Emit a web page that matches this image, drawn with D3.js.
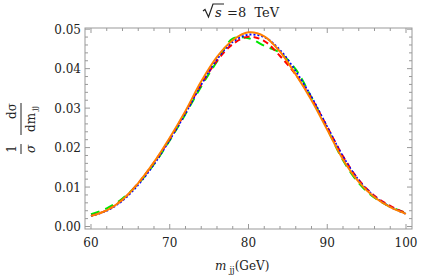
<!DOCTYPE html>
<html>
<head>
<meta charset="utf-8">
<script src="https://cdn.jsdelivr.net/npm/d3@7"></script>
<style>
  body { margin: 0; background: #fff; }
  svg text { font-family: "DejaVu Serif", "Liberation Serif", serif; }
</style>
</head>
<body>
<div id="graph"></div>
<script>
var width = 436, height = 277;
var margin = {top: 28, right: 24, bottom: 48, left: 85};

// m_jj values (GeV)
var mjj = [60, 62, 64, 66, 68, 70, 72, 74, 76, 78, 80, 82, 84, 86, 88, 90, 92, 94, 96, 98, 100];

// normalised distributions
var greenVals  = [0.0031, 0.0046, 0.0071, 0.0108, 0.0158, 0.0218, 0.0285, 0.0355, 0.0418, 0.0476, 0.0477, 0.0458, 0.0440, 0.0398, 0.0327, 0.0248, 0.0168, 0.0110, 0.0073, 0.0050, 0.0034];
var redVals    = [0.0027, 0.0041, 0.0068, 0.0110, 0.0162, 0.0222, 0.0290, 0.0360, 0.0420, 0.0462, 0.0481, 0.0470, 0.0432, 0.0385, 0.0325, 0.0252, 0.0178, 0.0118, 0.0078, 0.0052, 0.0034];
var blueVals   = [0.0027, 0.0040, 0.0066, 0.0106, 0.0158, 0.0220, 0.0287, 0.0360, 0.0424, 0.0468, 0.0486, 0.0480, 0.0447, 0.0393, 0.0328, 0.0252, 0.0177, 0.0117, 0.0076, 0.0050, 0.0032];
var orangeVals = [0.0027, 0.0041, 0.0068, 0.0110, 0.0163, 0.0225, 0.0293, 0.0368, 0.0430, 0.0472, 0.0492, 0.0482, 0.0443, 0.0385, 0.0320, 0.0245, 0.0170, 0.0113, 0.0074, 0.0049, 0.0032];

var xTicks = [60, 70, 80, 90, 100];
var yTicks = [0.00, 0.01, 0.02, 0.03, 0.04, 0.05];

var series = [
  {vals: greenVals,  color: "#00e600", dash: "9,6"},
  {vals: redVals,    color: "#ff0000", dash: "6,4"},
  {vals: blueVals,   color: "#0000ff", dash: "2,2"},
  {vals: orangeVals, color: "#ff8000", dash: null}
];

var svg = d3.select("#graph").append("svg")
    .attr("width", width).attr("height", height);

var x = d3.scaleLinear().domain([59.24, 100.76]).range([margin.left, width - margin.right]);
var y = d3.scaleLinear().domain([-0.00063, 0.0503]).range([height - margin.bottom, margin.top]);

var x0 = margin.left, x1 = width - margin.right,
    y0 = height - margin.bottom, y1 = margin.top;

var frame = svg.append("g").attr("class", "frame");
frame.append("rect")
    .attr("x", x0).attr("y", y1).attr("width", x1 - x0).attr("height", y0 - y1)
    .attr("fill", "none").attr("stroke", "#999").attr("stroke-width", 1);

// ticks on all four sides, pointing inward
var xMinor = d3.range(60, 101, 2);
var yMinor = d3.range(0, 0.0501, 0.002);

xMinor.forEach(function(t) {
  var major = xTicks.indexOf(t) >= 0;
  var len = major ? 5 : 3;
  frame.append("line").attr("x1", x(t)).attr("x2", x(t)).attr("y1", y0).attr("y2", y0 - len)
      .attr("stroke", "#999");
  frame.append("line").attr("x1", x(t)).attr("x2", x(t)).attr("y1", y1).attr("y2", y1 + len)
      .attr("stroke", "#999");
});
yMinor.forEach(function(t, i) {
  var major = i % 5 == 0;
  var len = major ? 5 : 3;
  frame.append("line").attr("y1", y(t)).attr("y2", y(t)).attr("x1", x0).attr("x2", x0 + len)
      .attr("stroke", "#999");
  frame.append("line").attr("y1", y(t)).attr("y2", y(t)).attr("x1", x1).attr("x2", x1 - len)
      .attr("stroke", "#999");
});

frame.selectAll(".xl").data(xTicks).enter().append("text")
    .attr("class", "xl")
    .attr("x", function(d) { return x(d); })
    .attr("y", y0 + 18)
    .attr("text-anchor", "middle")
    .attr("font-size", 12)
    .attr("fill", "#222")
    .text(function(d) { return d; });

frame.selectAll(".yl").data(yTicks).enter().append("text")
    .attr("class", "yl")
    .attr("x", x0 - 4)
    .attr("y", function(d) { return y(d) + 4.5; })
    .attr("text-anchor", "end")
    .attr("font-size", 12)
    .attr("fill", "#222")
    .text(function(d) { return d3.format(".2f")(d); });

// curves
var line = d3.line()
    .x(function(d, i) { return x(mjj[i]); })
    .y(function(d) { return y(d); })
    .curve(d3.curveCatmullRom);

svg.append("g").attr("class", "curves").selectAll("path")
    .data(series).enter().append("path")
    .attr("d", function(d) { return line(d.vals); })
    .attr("fill", "none")
    .attr("stroke", function(d) { return d.color; })
    .attr("stroke-width", 2)
    .attr("stroke-dasharray", function(d) { return d.dash; });

// title: sqrt(s) = 8 TeV
var title = svg.append("g").attr("transform", "translate(203,17)");
title.append("path")
    .attr("d", "M0,-6 L2,-7.5 L5.5,0 L10,-13 L21,-13")
    .attr("fill", "none").attr("stroke", "#222").attr("stroke-width", 1.2);
title.append("text").attr("x", 12).attr("y", 0).attr("font-size", 13)
    .attr("font-style", "italic").attr("fill", "#222").text("s");
title.append("text").attr("x", 24).attr("y", 0).attr("font-size", 13)
    .attr("fill", "#222").attr("xml:space", "preserve").text("=8  TeV");

// x label
var xl = svg.append("text").attr("x", 215).attr("y", 270).attr("font-size", 12).attr("fill", "#222");
xl.append("tspan").attr("font-style", "italic").text("m");
xl.append("tspan").attr("font-size", 8.5).attr("dx", 3).attr("dy", 3).text("jj");
xl.append("tspan").attr("dy", -3).text("(GeV)");

// y label: 1/sigma dsigma/dm_jj, rotated
var yl = svg.append("g").attr("transform", "translate(21,125) rotate(-90)").attr("fill", "#222");
yl.append("text").attr("x", -24).attr("y", -5).attr("text-anchor", "middle")
    .attr("font-size", 12).text("1");
yl.append("line").attr("x1", -29).attr("x2", -19).attr("y1", 0).attr("y2", 0)
    .attr("stroke", "#222").attr("stroke-width", 1);
yl.append("text").attr("x", -24).attr("y", 14).attr("text-anchor", "middle")
    .attr("font-size", 12).attr("font-style", "italic").text("σ");
yl.append("text").attr("x", 14).attr("y", -5).attr("text-anchor", "middle")
    .attr("font-size", 12).text("dσ");
yl.append("line").attr("x1", -10).attr("x2", 22).attr("y1", 0).attr("y2", 0)
    .attr("stroke", "#222").attr("stroke-width", 1);
var den = yl.append("text").attr("x", 6).attr("y", 14).attr("text-anchor", "middle")
    .attr("font-size", 12);
den.append("tspan").text("d");
den.append("tspan").text("m");
den.append("tspan").attr("font-size", 8).attr("dx", 2).attr("dy", 2).text("jj");
</script>
</body>
</html>
